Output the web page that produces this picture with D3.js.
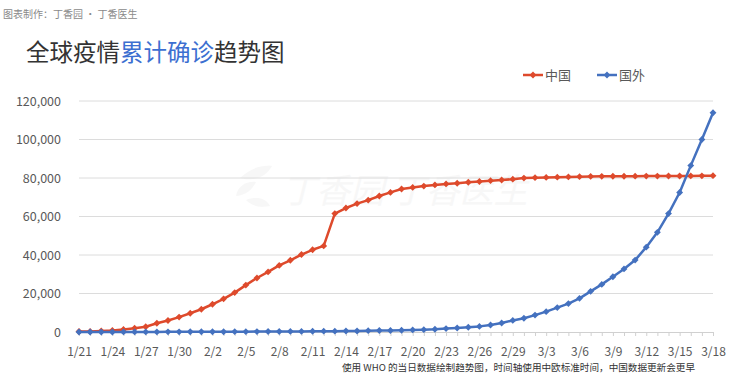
<!DOCTYPE html>
<html><head><meta charset="utf-8">
<script src="https://cdn.jsdelivr.net/npm/d3@7/dist/d3.min.js"></script>
<style>
html,body{margin:0;padding:0;background:#fff;}
svg{display:block;font-family:"Noto Sans CJK SC","Noto Sans",sans-serif;}
</style></head>
<body><svg id="c" width="740" height="382"></svg>
<script>
const dates = ["1/21","1/22","1/23","1/24","1/25","1/26","1/27","1/28","1/29","1/30","1/31",
"2/1","2/2","2/3","2/4","2/5","2/6","2/7","2/8","2/9","2/10","2/11","2/12","2/13","2/14","2/15","2/16","2/17","2/18","2/19","2/20","2/21","2/22","2/23","2/24","2/25","2/26","2/27","2/28","2/29",
"3/1","3/2","3/3","3/4","3/5","3/6","3/7","3/8","3/9","3/10","3/11","3/12","3/13","3/14","3/15","3/16","3/17","3/18"];
const china = [278,309,571,830,1297,1985,2741,4537,5997,7736,9720,
11821,14411,17238,20471,24363,28060,31211,34598,37251,40235,42708,44730,61500,64400,66700,68500,70635,72528,74280,75100,75800,76400,76936,77262,77780,78191,78630,78959,79394,
79968,80174,80304,80422,80565,80711,80813,80859,80904,80924,80955,80981,80991,81021,81048,81077,81116,81200];
const outside = [4,6,10,16,29,37,56,57,68,82,106,
132,146,153,159,191,216,270,288,307,319,395,441,447,505,526,683,794,804,924,1073,1200,1402,1769,2069,2459,2918,3664,4691,6009,
7169,8774,10566,12668,14768,17481,21110,24727,28674,32778,37364,44067,51767,61518,72469,86434,100000,113900];
const yTicks = [0,20000,40000,60000,80000,100000,120000];
const xLabels = ["1/21","1/24","1/27","1/30","2/2","2/5","2/8","2/11","2/14","2/17","2/20","2/23","2/26","2/29","3/3","3/6","3/9","3/12","3/15","3/18"];
const seriesNames = ["中国","国外"];
const colors = ["#de4a2c","#4471bf"];

const svg = d3.select("#c");
const x = d3.scalePoint().domain(dates).range([79,713]);
const y = d3.scaleLinear().domain([0,120000]).range([332,101]);
const fmt = d3.format(",");

// header
svg.append("text").attr("x",3).attr("y",18).attr("font-size",10).attr("fill","#8a8a8a")
  .text("图表制作：丁香园 · 丁香医生");
const t = svg.append("text").attr("x",26).attr("y",61).attr("font-size",23.5).attr("fill","#333");
t.append("tspan").text("全球疫情");
t.append("tspan").attr("fill","#3c6fd1").text("累计确诊");
t.append("tspan").text("趋势图");

// watermark
const wm = svg.append("g").attr("opacity",0.4);
wm.append("text").attr("x",282).attr("y",203).attr("font-size",34).attr("fill","#ececec")
  .attr("font-style","italic").text("丁香园  丁香医生");
wm.append("path").attr("d","M240,178 C250,168 262,165 272,166 C266,176 256,182 240,178 Z M236,196 C238,186 246,181 256,182 C252,190 246,195 236,196 Z M246,200 C256,196 266,198 270,206 C260,208 252,206 246,200 Z")
  .attr("fill","#ececec");

// grid
svg.append("g").selectAll("line").data(yTicks.filter(d=>d>0)).join("line")
  .attr("x1",79).attr("x2",713).attr("y1",d=>y(d)).attr("y2",d=>y(d))
  .attr("stroke","#dcdcdc").attr("stroke-width",1);

// x axis
const xAxis = d3.axisBottom(x).tickSize(4).tickFormat(d=>xLabels.includes(d)?d:"");
const gx = svg.append("g").attr("transform","translate(0,332)").call(xAxis);
gx.select(".domain").attr("stroke","#d0d0d0").attr("d","M79,0.5H713");
gx.selectAll(".tick line").attr("stroke","#d0d0d0");
gx.selectAll(".tick text").attr("font-size",12).attr("fill","#595959").attr("dy","1.45em")
  .attr("font-family","'Noto Sans CJK SC',sans-serif");

// y axis labels
const yAxis = d3.axisLeft(y).tickValues(yTicks).tickSize(0).tickPadding(0).tickFormat(fmt);
const gy = svg.append("g").attr("transform","translate(61,0)").call(yAxis);
gy.select(".domain").remove();
gy.selectAll(".tick text").attr("font-size",12.5).attr("fill","#595959")
  .attr("font-family","'Noto Sans CJK SC',sans-serif");

// series
const series = [china, outside];
const diamond = d3.symbol().type(d3.symbolDiamond2).size(30);
series.forEach((vals,i)=>{
  const line = d3.line().x((d,j)=>x(dates[j])).y(d=>y(d));
  svg.append("path").datum(vals).attr("d",line).attr("fill","none")
    .attr("stroke",colors[i]).attr("stroke-width",2.5).attr("stroke-linejoin","round");
  svg.append("g").selectAll("path").data(vals).join("path")
    .attr("transform",(d,j)=>`translate(${x(dates[j])},${y(d)})`)
    .attr("d",diamond).attr("fill",colors[i]);
});

// legend
const legX = [523,597];
seriesNames.forEach((n,i)=>{
  const g = svg.append("g").attr("transform",`translate(${legX[i]},75)`);
  g.append("line").attr("x1",0).attr("x2",20).attr("stroke",colors[i]).attr("stroke-width",2.5);
  g.append("path").attr("transform","translate(10,0)").attr("d",diamond).attr("fill",colors[i]);
  g.append("text").attr("x",22).attr("y",5).attr("font-size",13).attr("fill","#595959").text(n);
});

// note
svg.append("text").attr("x",695).attr("y",371).attr("text-anchor","end").attr("font-size",9.6)
  .attr("fill","#333").text("使用 WHO 的当日数据绘制趋势图，时间轴使用中欧标准时间，中国数据更新会更早");
</script></body></html>
